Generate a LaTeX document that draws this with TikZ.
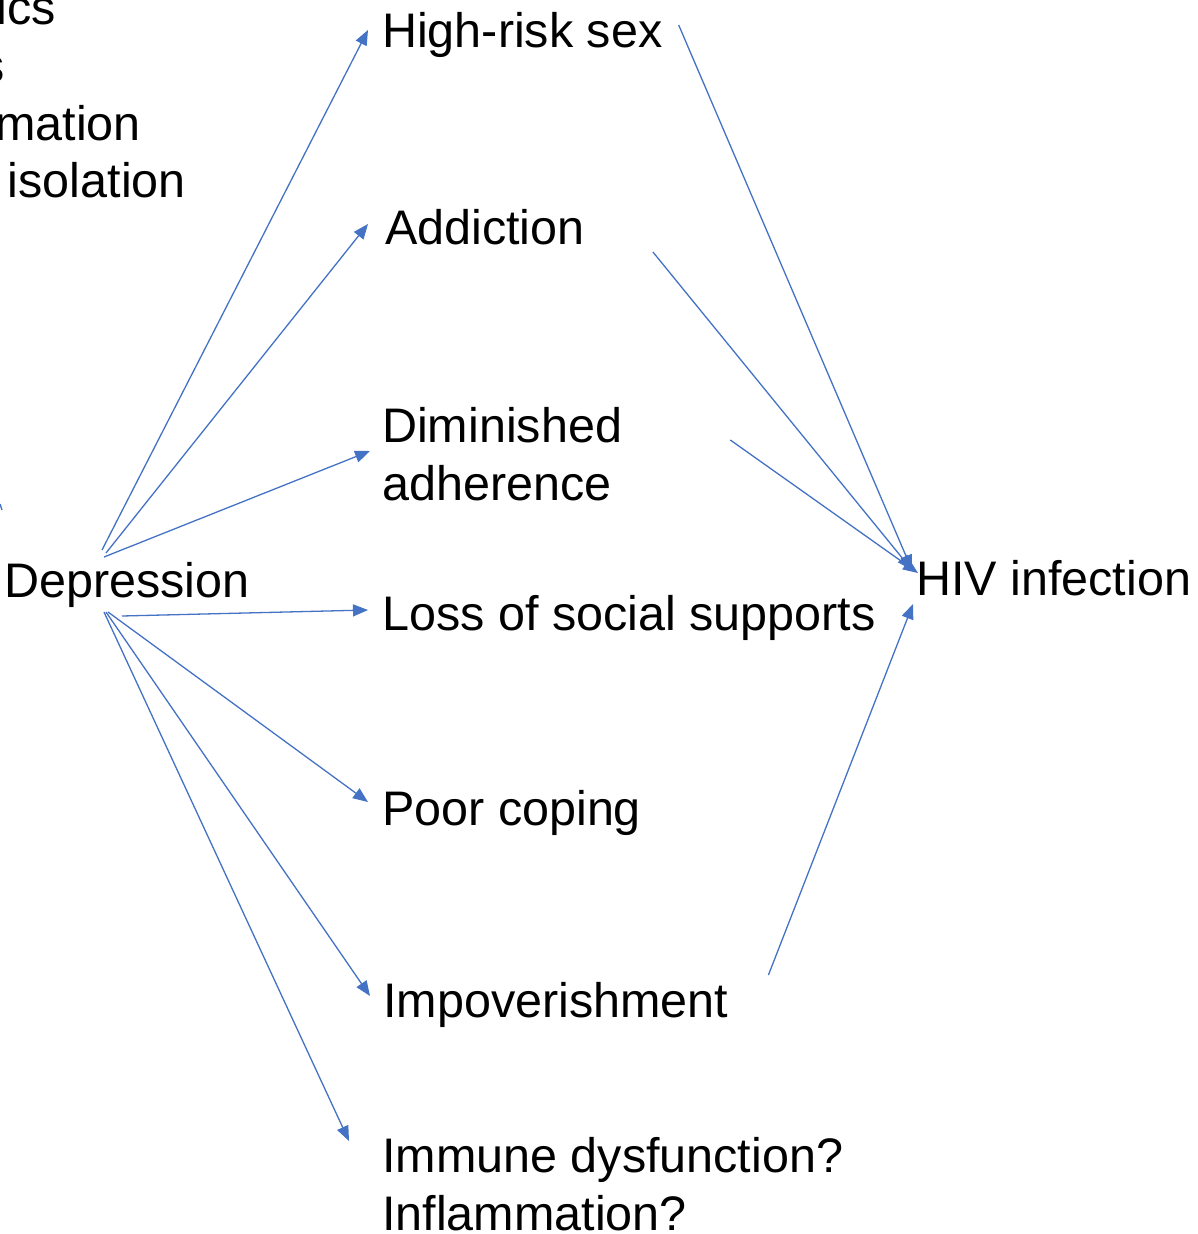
\documentclass[tikz,border=0pt]{standalone}
\usepackage{fontspec}
\setmainfont{Liberation Sans}
\usetikzlibrary{arrows.meta}
\definecolor{linkblue}{HTML}{4472C4}

\begin{document}
\begin{tikzpicture}[x=1pt, y=-1pt,
labelnode/.style={font=\fontsize{48.5}{58}\selectfont, inner sep=0pt, anchor=base west},
cutnode/.style={font=\fontsize{48.5}{58}\selectfont, inner sep=0pt, anchor=base east},
link/.style={draw=linkblue, line width=1.3pt, -{Triangle[length=15pt,width=12pt]}}]
\useasboundingbox (0,0) rectangle (1198,1234);

% text cut off at the left border
\node[cutnode] (frag1) at (56,24) {ics};
\node[cutnode] (frag2) at (5,82) {s};
\node[cutnode] (frag3) at (141,140) {mation};
\node[cutnode] (frag4) at (186,197) {isolation};
\coordinate (cuta) at (0,504);
\coordinate (cutb) at (2,510);
\draw[draw=linkblue, line width=1.3pt] (cuta) -- (cutb);

\node[labelnode] (dep) at (4,597) {Depression};
\node[labelnode] (hrs) at (382,47) {High-risk sex};
\node[labelnode] (add) at (385,244) {Addiction};
\node[labelnode, align=left] (dim) at (382,500) {Diminished\\adherence};
\node[labelnode] (loss) at (382,630) {Loss of social supports};
\node[labelnode] (poor) at (382,825) {Poor coping};
\node[labelnode] (imp) at (383,1017) {Impoverishment};
\node[labelnode, align=left] (imm) at (382,1230) {Immune dysfunction?\\Inflammation?};
\node[labelnode] (hiv) at (916,595) {HIV infection};

% from depression
\draw[link] ([shift={(98,-47)}]dep.base west) -- ([shift={(-14,-17)}]hrs.base west);
\draw[link] ([shift={(102,-44)}]dep.base west) -- ([shift={(-17,-20)}]add.base west);
\draw[link] ([shift={(100,-40)}]dep.base west) -- ([shift={(-12,-49)}]dim.base west);
\draw[link] ([shift={(118,19)}]dep.base west) -- ([shift={(-14,-20)}]loss.base west);
\draw[link] ([shift={(104,15)}]dep.base west) -- ([shift={(-14,-23)}]poor.base west);
\draw[link] ([shift={(102,15)}]dep.base west) -- ([shift={(-13,-21)}]imp.base west);
\draw[link] ([shift={(100,15)}]dep.base west) -- ([shift={(-33,-89)}]imm.base west);

% into hiv infection
\draw[link] ([shift={(16,-22)}]hrs.base east) -- ([shift={(-4,-25)}]hiv.base west);
\draw[link] ([shift={(68,8)}]add.base east) -- ([shift={(-4,-25)}]hiv.base west);
\draw[link] ([shift={(108,-60)}]dim.base east) -- ([shift={(2,-22)}]hiv.base west);
\draw[link] ([shift={(40,-42)}]imp.base east) -- ([shift={(-3,9)}]hiv.base west);
\end{tikzpicture}
\end{document}
